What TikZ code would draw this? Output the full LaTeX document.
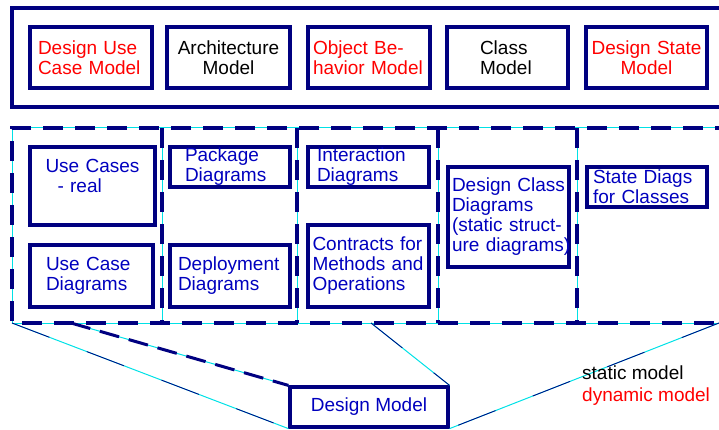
\documentclass[tikz,border=0pt]{standalone}
\usepackage{fontspec}
\setmainfont{Liberation Sans}
\usepackage{xcolor}
\definecolor{boxnavy}{RGB}{0,0,128}
\definecolor{txtblue}{RGB}{0,0,190}
\definecolor{guidecyan}{RGB}{0,225,230}

\begin{document}
\begin{tikzpicture}[x=1pt,y=-1pt,
		box/.style={draw=boxnavy,line width=3.2pt,inner sep=0pt,font=\fontsize{19}{20}\selectfont},
		boxsize/.style 2 args={minimum width=#1,minimum height=#2},
		dashline/.style={draw=boxnavy,line width=4pt,dash pattern=on 20pt off 12pt},
		guide/.style={draw=guidecyan,line width=1pt},
		link/.style={draw=boxnavy,line width=.8pt,dash pattern=on 40pt off 40pt,preaction={draw=guidecyan,line width=1pt,solid}}]
				\useasboundingbox (0,0) rectangle (719,430);
				% top row: the models
				\draw[boxnavy,line width=3.4pt] (12,8) rectangle (735,107);
				\node(ducm) at (91,57.5)[box,boxsize={122}{61},text width=106,align=left,text=red]{Design Use\\Case Model};
				\node(arch) at (228.5,57.5)[box,boxsize={123}{61},text width=110,align=center]{Architecture\\Model};
				\node(obm) at (369,57.5)[box,boxsize={122}{61},text width=112,align=left,text=red]{Object Be-\\havior Model};
				\node(cm) at (507.5,57.5)[box,boxsize={121}{61},text width=55,align=left]{Class\\Model};
				\node(dsm) at (646.5,57.5)[box,boxsize={121}{61},text width=112,align=center,text=red]{Design State\\Model};
				% design model parts
				\draw[guide] (735,128) -- (12,128) -- (12,323) -- (735,323);
				\foreach \x in {162,297,438,577}
					\draw[guide] (\x,128) -- (\x,323);
				\draw[dashline] (735,128) -- (12,128) -- (12,323) -- (735,323);
				\foreach \x in {162,297,438,577}
					\draw[dashline] (\x,128) -- (\x,323);
				\node(ucr) at (92.5,186)[box,boxsize={125}{78},text width=94,align=left,text=txtblue]{Use Cases\\\hspace*{12pt}- real\\\mbox{}};
				\node(ucd) at (91.5,276)[box,boxsize={123}{62},text width=91,align=left,text=txtblue]{Use Case\\Diagrams};
				\node(pkg) at (230,167)[box,boxsize={120}{40},text width=90,align=left,text=txtblue]{Package\\Diagrams};
				\node(dep) at (230,276)[box,boxsize={120}{62},text width=104,align=left,text=txtblue]{Deployment\\Diagrams};
				\node(inter) at (368.5,167)[box,boxsize={121}{40},text width=103,align=left,text=txtblue]{Interaction\\Diagrams};
				\node(contr) at (368.5,266)[box,boxsize={121}{82},text width=112,align=left,text=txtblue]{Contracts for\\Methods and\\Operations};
				\node(dcd) at (508.5,217)[box,boxsize={121}{100},text width=113,align=left,text=txtblue]{Design Class\\Diagrams\\(static struct-\\\mbox{ure diagrams)}};
				\node(sdc) at (647,187)[box,boxsize={120}{40},text width=108,align=left,text=txtblue]{State Diags\\for Classes};
				% design model and its links
				\node(dm) at (369,407)[box,boxsize={158}{40},text=txtblue]{Design Model};
				\coordinate(b1) at (12,323);
				\coordinate(b2) at (71,323);
				\coordinate(b3) at (371,323);
				\coordinate(b4) at (719,323);
				\draw[link] (b1) -- (dm.south west);
				\draw[guide] (b2) -- (dm.north west);
				\draw[draw=boxnavy,line width=3pt,dash pattern=on 20pt off 10pt] (b2) -- (dm.north west);
				\draw[link] (b3) -- (dm.north east);
				\draw[link] (b4) -- (dm.south east);
				\node(legend) at (582,386)[anchor=west,inner sep=0pt,align=left,font=\fontsize{19}{22}\selectfont]{static model\\\textcolor{red}{dynamic model}};
\end{tikzpicture}
\end{document}
